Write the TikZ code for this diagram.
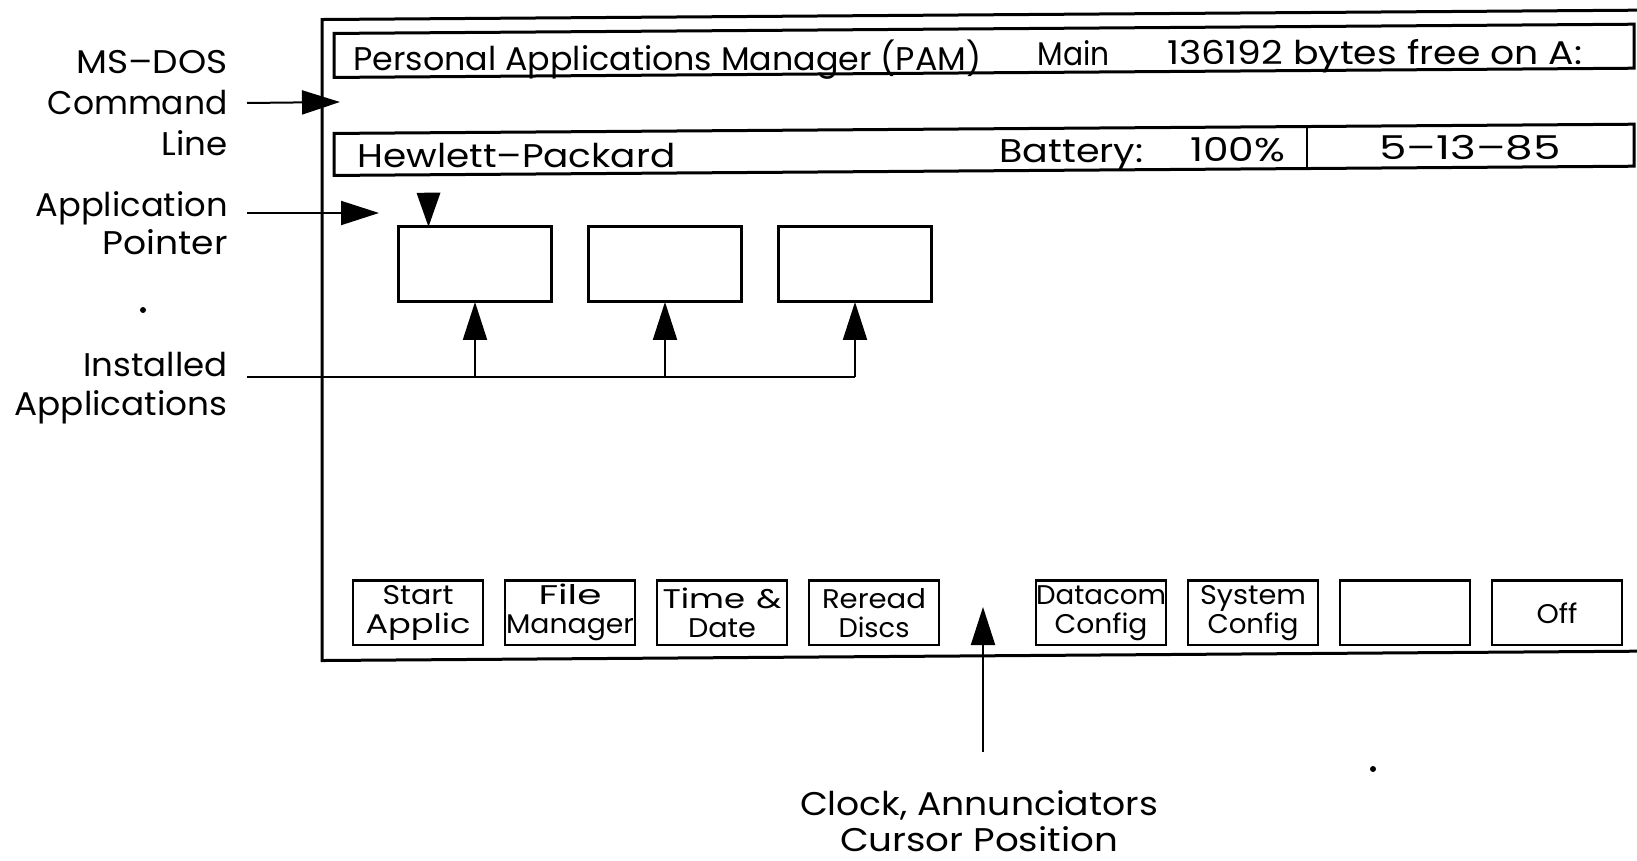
\documentclass[tikz,border=0pt]{standalone}
\usepackage{fontspec}
\setmainfont{Poppins}
\usepackage{tikz}
\usetikzlibrary{arrows.meta, positioning}

\newcommand{\barfont}{\fontsize{16.4}{20}\selectfont}
\newcommand{\calloutfont}{\fontsize{16.4}{20}\selectfont}
\newcommand{\keyfont}{\fontsize{13.5}{14.5}\selectfont}
% stretch a text to the width that the plotter font gives it
\newcommand{\fitw}[2]{\resizebox{#1}{\height}{#2}}

\tikzset{
  screenline/.style={line width=1.5pt},
  bar/.style={draw, line width=1.5pt},
  bartext/.style={inner sep=0pt, font=\barfont},
  appbox/.style={draw, line width=1.5pt, minimum width=76.5pt, minimum height=37.5pt, inner sep=0pt, outer sep=0pt},
  softkey/.style={draw, line width=1.4pt, text width=65pt, minimum height=32.25pt, inner sep=0pt, outer sep=0pt, align=center, font=\keyfont},
  callout/.style={inner sep=0pt, align=right, font=\calloutfont},
  pointer/.style={-{Triangle[length=19pt, width=12pt]}, line width=1pt},
  leader/.style={line width=1.4pt},
}

\begin{document}
\begin{tikzpicture}[x=0.5pt, y=-0.5pt]
  \fill[white] (0,0) rectangle (1637,861);
  \useasboundingbox (0,0) rectangle (1637,861);

  \begin{scope}[shift={(818,0)}, yslant=0.0071, shift={(-818,0)}]
  % === screen frame ===
  \draw[screenline] (1637,16) -- (322,16) -- (322,657) -- (1637,657);

  % === status lines ===
  \draw[bar] (334,30) rectangle (1634,74);
  \node[bartext, anchor=base west] (pamtitle) at (353,67) {\fitw{314pt}{Personal Applications Manager (PAM)}};
  \node[bartext, anchor=base west] (pammode) at (1037,67) {\fitw{36pt}{Main}};
  \node[bartext, anchor=base west] (pamfree) at (1167,67) {\fitw{207.5pt}{136192 bytes free on A:}};

  \draw[bar] (334,130) rectangle (1634,172);
  \draw[line width=0.7pt] (1307,130) -- (1307,172);
  \node[bartext, anchor=base west] (hpname) at (357,164) {\fitw{159pt}{Hewlett–Packard}};
  \node[bartext, anchor=base west] (battery) at (999,164) {\fitw{72pt}{Battery:}};
  \node[bartext, anchor=base west] (battval) at (1190,164) {\fitw{47.5pt}{100\%}};
  \node[bartext, anchor=base] (date) at (1470,164) {\fitw{90.5pt}{5–13–85}};

  % === installed applications ===
  \node[appbox] (app1) at (475,262) {};
  \node[appbox, right=18.5pt of app1] (app2) {};
  \node[appbox, right=18.5pt of app2] (app3) {};
  \fill (app1.north west) ++(15pt,0) -- ++(-6pt,17pt) -- ++(12pt,0) -- cycle;

  % === soft keys ===
  \node[softkey] (start) at (418,610) {\fitw{35.5pt}{Start}\\\fitw{52.5pt}{Applic}};
  \node[softkey, right=11pt of start] (filemgr) {\fitw{31.5pt}{File}\\\fitw{64pt}{Manager}};
  \node[softkey, right=11pt of filemgr] (timedate) {\fitw{59.5pt}{Time \&}\\\fitw{34pt}{Date}};
  \node[softkey, right=11pt of timedate] (reread) {\fitw{52pt}{Reread}\\\fitw{35.5pt}{Discs}};
  \node[softkey, right=48.5pt of reread] (datacom) {\fitw{65pt}{Datacom}\\\fitw{46.5pt}{Config}};
  \node[softkey, right=11pt of datacom] (sysconfig) {\fitw{53pt}{System}\\\fitw{45.5pt}{Config}};
  \node[softkey, right=11pt of sysconfig] (blank) {};
  \node[softkey, right=11pt of blank] (off) {\fitw{20.5pt}{Off}};
  \end{scope}

  % === callouts ===
  \node[callout, anchor=east] (doslabel) at (228,103) {\fitw{75.5pt}{MS–DOS}\\[0.5pt]\fitw{90pt}{Command}\\[0.5pt]\fitw{33pt}{Line}};
  \coordinate (cmdtip) at (340,102);
  \draw[pointer] ([xshift=9.5pt]doslabel.east) -- (cmdtip);

  \node[callout, anchor=east] (ptrlabel) at (228,223) {\fitw{96pt}{Application}\\[-1pt]\fitw{62.5pt}{Pointer}};
  \coordinate (ptrtail) at (247,213);
  \coordinate (ptrtip) at (379,213);
  \draw[pointer] (ptrtail) -- (ptrtip);

  \fill (143,310) circle (1.5pt);

  \node[callout, anchor=east] (instlabel) at (228,388) {\fitw{72pt}{Installed}\\[-0.5pt]\fitw{106.5pt}{Applications}};
  \coordinate (insttail) at (247,377);
  \draw[leader] (insttail) -- (app3.south |- insttail);
  \foreach \a in {app1, app2, app3}
    \draw[pointer] (\a.south |- insttail) -- (\a.south);

  \node[callout, align=center, anchor=north] (clocklabel) at (979,790) {\fitw{179pt}{Clock, Annunciators}\\[-2pt]\fitw{139pt}{Cursor Position}};
  \coordinate (clocktail) at (983,752);
  \coordinate (clocktip) at (983,607);
  \draw[pointer] (clocktail) -- (clocktip);

  \fill (1373,769) circle (1.5pt);
\end{tikzpicture}
\end{document}
